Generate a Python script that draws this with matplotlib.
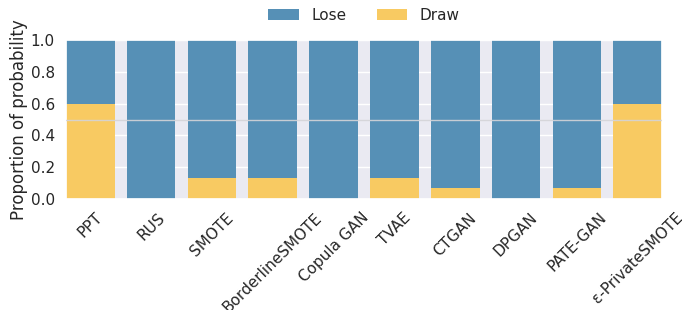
import matplotlib
matplotlib.use("Agg")
import matplotlib.pyplot as plt
import seaborn as sns
import numpy as np

sns.set_theme(style="darkgrid")
plt.rcParams['font.family'] = ['DejaVu Sans']

categories = ["PPT", "RUS", "SMOTE", "BorderlineSMOTE", "Copula GAN", "TVAE",
              "CTGAN", "DPGAN", "PATE-GAN", "ε-PrivateSMOTE"]
draw = [0.6, 0.0, 0.133, 0.133, 0.0, 0.133, 0.067, 0.0, 0.067, 0.6]
lose = [0.4, 1.0, 0.867, 0.867, 1.0, 0.867, 0.933, 1.0, 0.933, 0.4]

blue = "#5690B6"
yellow = "#F8CA62"

fig = plt.figure(figsize=(6.82, 3.10), dpi=100)
ax = fig.add_axes([66/682, 1 - 199/310, 596/682, 159/310])

x = np.arange(len(categories))
b_draw = ax.bar(x, draw, width=0.8, color=yellow, label="Draw", zorder=2, linewidth=0)
b_lose = ax.bar(x, lose, width=0.8, bottom=draw, color=blue, label="Lose", zorder=2, linewidth=0)
ax.axhline(0.5, color="#d4d4d8", lw=1.0, alpha=0.9, zorder=3)

ax.set_xlim(-0.4, len(categories) - 0.6)
ax.set_ylim(0, 1)
ax.set_yticks([0.0, 0.2, 0.4, 0.6, 0.8, 1.0])
ax.set_yticklabels(["0.0", "0.2", "0.4", "0.6", "0.8", "1.0"], fontsize=11)
ax.set_xticks(x)
ax.set_xticklabels(categories, rotation=45, fontsize=11)
ax.set_ylabel("Proportion of probability", fontsize=12, labelpad=2)
ax.tick_params(axis='both', pad=2)

ax.legend([b_lose, b_draw], ["Lose", "Draw"], loc="lower center",
          bbox_to_anchor=(0.5, 1.02), ncol=2, frameon=False, fontsize=11,
          columnspacing=2.0)

fig.savefig("out.png", dpi=100)
